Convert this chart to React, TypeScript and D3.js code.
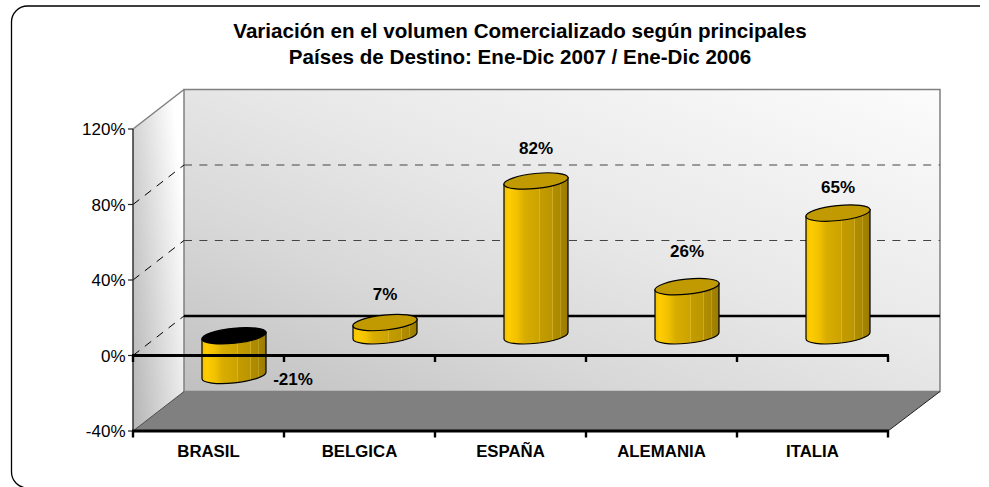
import React from "react";
import * as d3 from "d3";

const categories = ["BRASIL", "BELGICA", "ESPAÑA", "ALEMANIA", "ITALIA"];
const values = [-21, 7, 82, 26, 65];
const valueLabels = ["-21%", "7%", "82%", "26%", "65%"];
const yTicks = [-40, 0, 40, 80, 120];
const titleLines = [
  "Variación en el volumen Comercializado según principales",
  "Países de Destino: Ene-Dic 2007 / Ene-Dic 2006",
];
const barStops: [number, string][] = [
  [0, "#f2c200"], [0.07, "#ffcc00"], [0.2, "#f2c200"], [0.32, "#d9ad00"], [0.54, "#cca300"],
  [0.55, "#e8c840"], [0.56, "#c49c00"], [0.75, "#bb9600"], [0.76, "#d2b030"], [0.77, "#b08c00"],
  [0.87, "#ab8900"], [0.88, "#c4a428"], [0.89, "#a58400"], [1, "#9a7b00"],
];

const W = 989, H = 487;
const DX = 51, DY = -39.5;
const x = d3.scaleBand<string>().domain(categories).range([133, 888]);
const y = d3.scaleLinear().domain([-40, 120]).range([431, 129]);
const RX = 32, RY = 7.5, TILT = -6;

function Bar({ cat, v }: { cat: string; v: number }) {
  const cx = x(cat)! + x.bandwidth() / 2 + DX / 2;
  const y0 = y(0) + DY / 2;
  const yv = y(v) + DY / 2;
  const top = Math.min(y0, yv);
  const bot = Math.max(y0, yv);
  const s = 3.3;
  const body = `M${cx - RX},${top + s} L${cx - RX},${bot + s} A${RX},${RY} ${TILT} 0 0 ${cx + RX},${bot - s} L${cx + RX},${top - s} Z`;
  return (
    <g stroke="#000" strokeWidth={1.2}>
      <path d={body} fill="url(#barGrad)" />
      <ellipse cx={cx} cy={top} rx={RX + 0.3} ry={RY} transform={`rotate(${TILT} ${cx} ${top})`} fill={v < 0 ? "#000" : "#c09a00"} />
    </g>
  );
}

export default function App() {
  const font = "'Liberation Sans', Arial, sans-serif";
  const fl = x.range()[0], fr = x.range()[1];
  const yTop = y(120), yBot = y(-40);
  const wall = `M${fl + DX},${yTop + DY} H${fr + DX + 1} V${yBot + DY} H${fl + DX} Z`;
  const side = `M${fl},${yTop} L${fl + DX},${yTop + DY} V${yBot + DY} L${fl},${yBot} Z`;
  const floor = `M${fl},${yBot} L${fl + DX},${yBot + DY} H${fr + DX + 1} L${fr},${yBot} Z`;
  const boundaries = categories.map((c) => x(c)!).concat([fr]);
  const labelOffsets = [
    { dx: 59, y: 385 },
    { dx: 0, y: 300 },
    { dx: 0, y: 154 },
    { dx: 0, y: 257 },
    { dx: 0, y: 193 },
  ];
  return (
    <svg width={W} height={H} viewBox={`0 0 ${W} ${H}`} style={{ position: "fixed", left: 0, top: 0, display: "block", background: "#fff" }} fontFamily={font}>
      <defs>
        <linearGradient id="wallGrad" x1="0" y1="1" x2="1" y2="0">
          <stop offset="0" stopColor="#c0c0c0" />
          <stop offset="0.3" stopColor="#d8d8d8" />
          <stop offset="0.55" stopColor="#e8e8e8" />
          <stop offset="1" stopColor="#fcfcfc" />
        </linearGradient>
        <linearGradient id="sideGrad" x1="0" y1="1" x2="1" y2="0.35">
          <stop offset="0" stopColor="#b4b4b4" />
          <stop offset="1" stopColor="#ffffff" />
        </linearGradient>
        <linearGradient id="barGrad" x1="0" y1="0" x2="1" y2="0">
          {barStops.map(([o, c], i) => <stop key={i} offset={o} stopColor={c} />)}
        </linearGradient>
      </defs>

      <path d={`M980,6 H27.5 A16,16 0 0 0 11.5,22 V472 A16,16 0 0 0 27.5,488`} fill="none" stroke="#000" strokeWidth={1.3} />

      {titleLines.map((t, i) => (
        <text key={t} x={520} y={38 + i * 26} textAnchor="middle" fontSize={20.6} fontWeight={700} fill="#000">{t}</text>
      ))}

      <path d={side} fill="url(#sideGrad)" />
      <path d={wall} fill="url(#wallGrad)" stroke="#808080" strokeWidth={1.5} />
      <path d={floor} fill="#808080" />
      <line x1={fl} y1={yTop} x2={fl + DX} y2={yTop + DY} stroke="#808080" strokeWidth={1.5} />
      <line x1={fl} y1={yBot} x2={fl + DX} y2={yBot + DY} stroke="#333" strokeWidth={0.8} />
      <line x1={fr} y1={yBot} x2={fr + DX + 1} y2={yBot + DY} stroke="#222" strokeWidth={1} />

      {[40, 80].map((t) => (
        <g key={t} fill="none">
          <line x1={fl} y1={y(t)} x2={fl + DX} y2={y(t) + DY} stroke="#000" strokeWidth={1} strokeDasharray="8 7" />
          <line x1={fl + DX} y1={y(t) + DY} x2={fr + DX + 1} y2={y(t) + DY} stroke="#444" strokeWidth={1} strokeDasharray="8 7.4" />
        </g>
      ))}
      <line x1={fl} y1={y(0)} x2={fl + DX} y2={y(0) + DY} stroke="#000" strokeWidth={1} strokeDasharray="8 7" />
      <line x1={fl + DX} y1={y(0) + DY} x2={fr + DX + 1} y2={y(0) + DY} stroke="#000" strokeWidth={2.4} />

      {categories.map((c, i) => <Bar key={c} cat={c} v={values[i]} />)}

      <line x1={fl} y1={yTop} x2={fl} y2={yBot} stroke="#333" strokeWidth={1.5} />
      {yTicks.map((t) => (
        <g key={t}>
          <line x1={fl - 5} y1={y(t)} x2={fl} y2={y(t)} stroke="#222" strokeWidth={1.2} />
          <text x={125.5} y={y(t) + 6} textAnchor="end" fontSize={17} fill="#000">{t}%</text>
        </g>
      ))}

      {[y(0), yBot].map((yy) => (
        <g key={yy} stroke="#000">
          <line x1={fl - 1} y1={yy} x2={fr + 1} y2={yy} strokeWidth={3} />
          {boundaries.map((b) => <line key={b} x1={b} y1={yy} x2={b} y2={yy + 6.5} strokeWidth={2.4} />)}
        </g>
      ))}

      {categories.map((c) => (
        <text key={c} x={x(c)! + x.bandwidth() / 2} y={457} textAnchor="middle" fontSize={16.8} fontWeight={700} fill="#000">{c}</text>
      ))}
      {categories.map((c, i) => (
        <text key={c} x={x(c)! + x.bandwidth() / 2 + DX / 2 + labelOffsets[i].dx} y={labelOffsets[i].y} textAnchor="middle" fontSize={17} fontWeight={700} fill="#000">{valueLabels[i]}</text>
      ))}
    </svg>
  );
}
